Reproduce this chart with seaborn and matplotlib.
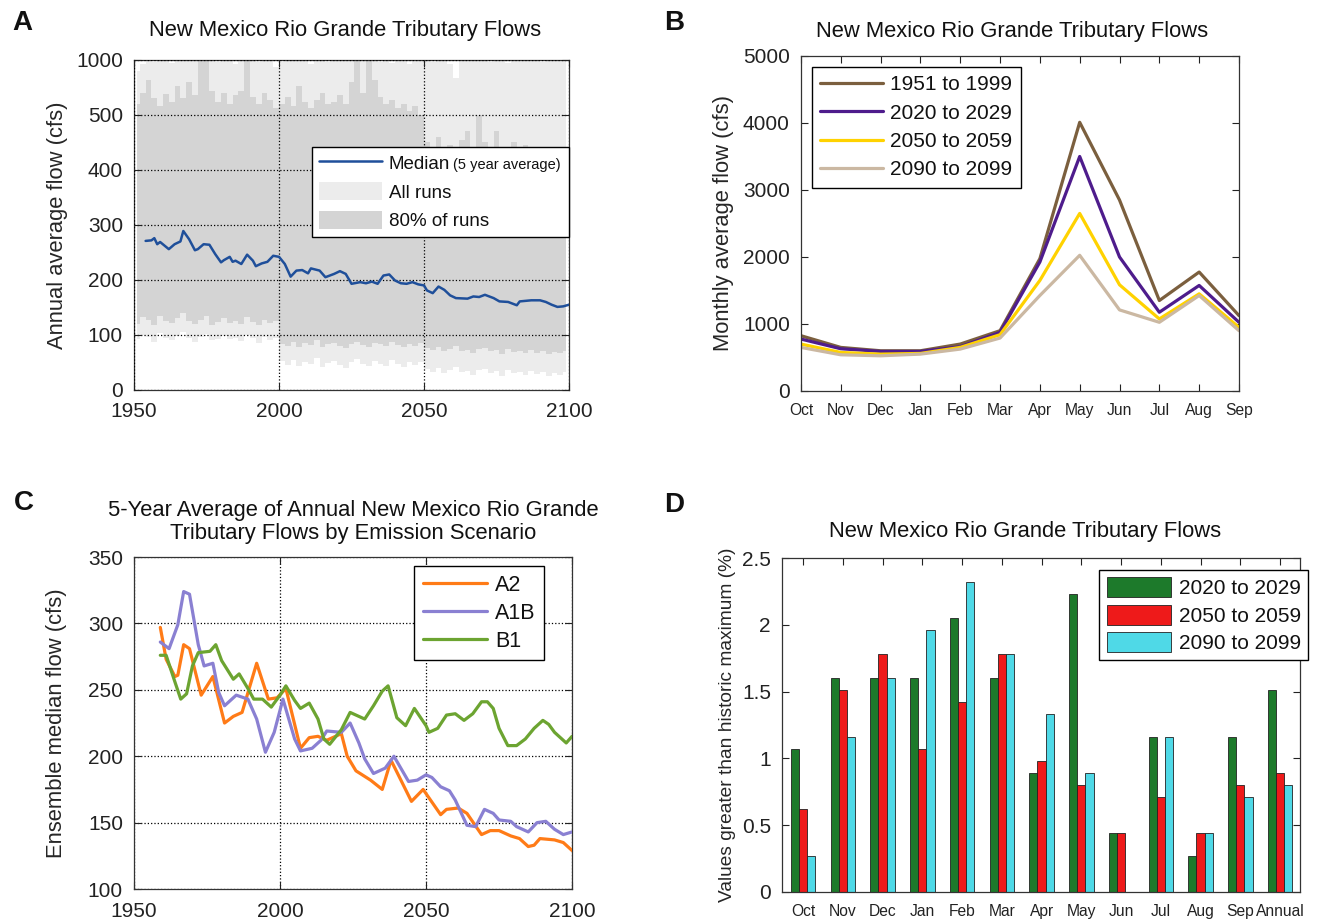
import math
import numpy as np
import pandas as pd
import matplotlib
matplotlib.use('Agg')
import matplotlib.pyplot as plt
import seaborn as sns
from matplotlib.lines import Line2D
from matplotlib.patches import Patch

# %% data

# A: annual flow, median (5-yr average) and run envelopes
median_years = [1954, 1956, 1957, 1958, 1959, 1962, 1964, 1966, 1967, 1969, 1971, 1972, 1974, 1976, 1978,
                1980, 1981, 1983, 1984, 1985, 1987, 1989, 1991, 1992, 1994, 1996, 1998, 2000, 2002, 2004,
                2006, 2008, 2010, 2011, 2014, 2016, 2019, 2021, 2023, 2025, 2028, 2030, 2032, 2034, 2036,
                2038, 2040, 2042, 2044, 2046, 2048, 2050, 2051, 2053, 2055, 2057, 2059, 2061, 2065, 2067,
                2069, 2071, 2074, 2076, 2079, 2082, 2083, 2087, 2090, 2092, 2094, 2096, 2098, 2100]
median_flow = [271, 272, 276, 265, 269, 256, 265, 270, 289, 274, 254, 256, 265, 264, 247,
               232, 236, 242, 233, 235, 229, 246, 235, 225, 230, 233, 244, 242, 229, 206,
               217, 218, 212, 221, 217, 205, 211, 216, 211, 193, 196, 194, 197, 193, 208,
               210, 199, 194, 193, 196, 192, 190, 181, 176, 188, 182, 172, 167, 166, 170,
               169, 173, 167, 161, 160, 154, 161, 163, 163, 160, 155, 151, 152, 155]

band_years = list(range(1951, 2100, 2))
p80_hi = [600, 700, 820, 650, 580, 690, 620, 760, 650, 800, 680, 1000, 1000, 720, 620, 700, 600, 680, 720, 1000, 660, 600, 700, 640, 560,
          600, 660, 580, 760, 620, 560, 640, 700, 600, 620, 680, 600, 800, 1000, 700, 1000, 820, 660, 600, 640, 560, 600, 540, 580, 500,
          450, 440, 460, 430, 445, 420, 455, 470, 440, 500, 450, 430, 470, 440, 420, 450, 430, 445, 420, 440, 410, 430, 400, 390, 380]
p80_lo = [120, 132, 128, 118, 135, 125, 122, 130, 140, 126, 120, 128, 134, 118, 124, 130, 122, 126, 120, 132, 124, 118, 128, 122, 126,
          84, 80, 88, 78, 85, 82, 90, 79, 83, 86, 80, 76, 84, 88, 81, 78, 85, 83, 80, 87, 82, 79, 84, 80, 86,
          76, 72, 78, 70, 74, 80, 71, 73, 68, 75, 77, 70, 72, 66, 74, 69, 71, 67, 73, 68, 70, 65, 69, 67, 70]
all_hi = [900, 960, 1000, 980, 1000, 1000, 970, 1000, 1000, 1000, 990, 1000, 1000, 1000, 980, 1000, 1000, 960, 1000, 1000, 1000, 980, 1000, 990, 940,
          980, 1000, 1000, 990, 1000, 960, 1000, 1000, 980, 1000, 1000, 990, 1000, 1000, 1000, 1000, 1000, 980, 1000, 970, 1000, 1000, 960, 1000, 990,
          1000, 980, 1000, 1000, 960, 840, 1000, 1000, 990, 1000, 1000, 980, 1000, 1000, 970, 1000, 1000, 990, 1000, 1000, 980, 1000, 990, 1000, 1000]
all_lo = [92, 100, 96, 88, 104, 95, 90, 98, 106, 94, 88, 97, 102, 90, 93, 99, 92, 95, 89, 100, 94, 86, 96, 91, 95,
          52, 46, 55, 44, 50, 48, 58, 42, 49, 53, 45, 40, 50, 56, 47, 43, 52, 48, 44, 54, 47, 42, 50, 45, 51,
          38, 33, 40, 30, 36, 42, 32, 35, 28, 37, 39, 31, 34, 26, 36, 30, 33, 27, 35, 29, 32, 25, 30, 28, 33]

# B: monthly average flow by period
months_b = ['Oct', 'Nov', 'Dec', 'Jan', 'Feb', 'Mar', 'Apr', 'May', 'Jun', 'Jul', 'Aug', 'Sep']
periods_b = ['1951 to 1999', '2020 to 2029', '2050 to 2059', '2090 to 2099']
flow_1951 = [825, 650, 600, 600, 700, 900, 1975, 4010, 2850, 1350, 1775, 1125]
flow_2020 = [775, 630, 590, 590, 660, 875, 1925, 3500, 2000, 1175, 1575, 1025]
flow_2050 = [700, 575, 550, 560, 650, 840, 1650, 2650, 1585, 1075, 1450, 950]
flow_2090 = [650, 540, 525, 550, 625, 790, 1425, 2025, 1210, 1025, 1425, 900]

# C: 5-year average by emission scenario
a2_years = [1959, 1961, 1964, 1965, 1967, 1969, 1973, 1977, 1981, 1984, 1987, 1992, 1996, 1999, 2002,
            2004, 2007, 2010, 2013, 2016, 2021, 2023, 2026, 2031, 2035, 2038, 2045, 2049, 2055, 2057,
            2061, 2064, 2069, 2072, 2075, 2079, 2082, 2085, 2087, 2089, 2094, 2097, 2100]
a2_flow = [297, 273, 260, 261, 284, 281, 246, 260, 225, 230, 233, 270, 243, 244, 251,
           233, 206, 214, 215, 212, 217, 200, 189, 182, 175, 197, 166, 175, 156, 160,
           161, 157, 141, 144, 144, 140, 138, 132, 133, 138, 137, 135, 129]
a1b_years = [1959, 1962, 1965, 1967, 1969, 1972, 1974, 1977, 1979, 1981, 1985, 1989, 1992, 1995, 1998, 2001,
             2005, 2007, 2011, 2014, 2016, 2021, 2024, 2027, 2029, 2032, 2036, 2039, 2044, 2047, 2050, 2052,
             2055, 2058, 2060, 2064, 2067, 2070, 2073, 2075, 2079, 2081, 2085, 2088, 2091, 2094, 2097, 2100]
a1b_flow = [286, 281, 299, 324, 322, 284, 268, 270, 248, 238, 246, 243, 228, 203, 218, 243,
            213, 204, 206, 212, 219, 218, 225, 210, 198, 187, 191, 200, 181, 182, 186, 184,
            177, 174, 167, 148, 147, 160, 157, 152, 151, 147, 143, 150, 151, 145, 141, 143]
b1_years = [1959, 1961, 1964, 1966, 1968, 1970, 1972, 1976, 1978, 1980, 1984, 1986, 1989, 1991, 1994, 1997, 2000, 2002,
            2005, 2007, 2010, 2013, 2015, 2017, 2021, 2024, 2026, 2029, 2032, 2035, 2037, 2040, 2043, 2046, 2050, 2051,
            2054, 2057, 2060, 2063, 2066, 2069, 2071, 2073, 2075, 2078, 2081, 2084, 2087, 2090, 2092, 2094, 2098, 2100]
b1_flow = [276, 276, 256, 243, 247, 268, 278, 279, 284, 272, 258, 262, 251, 243, 243, 237, 246, 253,
           242, 236, 240, 228, 213, 209, 220, 233, 231, 228, 238, 249, 253, 229, 223, 236, 223, 218,
           221, 231, 232, 227, 232, 241, 241, 236, 221, 208, 208, 213, 221, 227, 224, 218, 210, 215]

# D: % of values greater than historic maximum
months_d = ['Oct', 'Nov', 'Dec', 'Jan', 'Feb', 'Mar', 'Apr', 'May', 'Jun', 'Jul', 'Aug', 'Sep', 'Annual']
periods_d = ['2020 to 2029', '2050 to 2059', '2090 to 2099']
pct_2020 = [1.07, 1.60, 1.60, 1.60, 2.05, 1.60, 0.89, 2.23, 0.44, 1.16, 0.27, 1.16, 1.51]
pct_2050 = [0.62, 1.51, 1.78, 1.07, 1.42, 1.78, 0.98, 0.80, 0.44, 0.71, 0.44, 0.80, 0.89]
pct_2090 = [0.27, 1.16, 1.60, 1.96, 2.32, 1.78, 1.33, 0.89, 0.00, 1.16, 0.44, 0.71, 0.80]

# %% styling

sns.set_style('ticks')
plt.rcParams['font.family'] = ['Liberation Sans', 'DejaVu Sans']
plt.rcParams.update({
    'xtick.direction': 'in', 'ytick.direction': 'in',
    'xtick.top': True, 'ytick.right': True,
    'xtick.major.size': 5, 'ytick.major.size': 5,
    'xtick.major.width': 0.8, 'ytick.major.width': 0.8,
    'xtick.major.pad': 9, 'ytick.major.pad': 8,
    'xtick.labelsize': 15, 'ytick.labelsize': 15,
    'xtick.color': '#222222', 'ytick.color': '#222222',
    'axes.edgecolor': '#333333', 'axes.linewidth': 0.9,
    'text.color': '#111111',
})

blue = '#1f4f9a'
c_all = '#ececec'
c_80 = '#d4d4d4'
pal_b = ['#7b5f3e', '#4e1c8c', '#ffd200', '#cbb8a2']
pal_c = {'A2': '#ff7b17', 'A1B': '#8a80d2', 'B1': '#6ca431'}
pal_d = ['#1d7a2b', '#ee1a1a', '#4fd9e7']

leg_kw = dict(frameon=True, fancybox=False, edgecolor='black', framealpha=1,
              borderaxespad=0, handletextpad=0.35)

fig = plt.figure(figsize=(13.23, 9.21), dpi=100)
axA = fig.add_axes([0.1013, 0.5766, 0.3288, 0.3583])
axB = fig.add_axes([0.6054, 0.5755, 0.3311, 0.3637])
axC = fig.add_axes([0.1013, 0.0347, 0.3311, 0.3605])
axD = fig.add_axes([0.5911, 0.0315, 0.3915, 0.3626])

r = fig.canvas.get_renderer()

def text_w(s, size):
    t = fig.text(0, 0, s, fontsize=size)
    w = t.get_window_extent(r).width
    t.remove()
    return w

# month labels sized so "Annual" fits its slot next to "Sep"
fs_month = min(14, 14 * 49 / text_w('Annual', 14))

# %% A

def fwd(y):
    y = np.asarray(y, dtype=float)
    return np.where(y <= 500, y, 500 + (y - 500) / 5)

def inv(z):
    z = np.asarray(z, dtype=float)
    return np.where(z <= 500, z, 500 + (z - 500) * 5)

axA.fill_between(band_years, all_lo, all_hi, step='mid', color=c_all, lw=0, zorder=1)
axA.fill_between(band_years, p80_lo, p80_hi, step='mid', color=c_80, lw=0, zorder=1.1)
sns.lineplot(x=median_years, y=median_flow, color=blue, lw=1.8, ax=axA, zorder=3)
axA.set_yscale('function', functions=(fwd, inv))
axA.set_ylim(0, 1000)
axA.set_xlim(1950, 2100)
axA.set_yticks([0, 100, 200, 300, 400, 500, 1000], labels=['0', '100', '200', '300', '400', '500', '1000'])
axA.set_xticks([1950, 2000, 2050, 2100])
axA.set_axisbelow(False)
axA.grid(True, ls=':', color='black', lw=0.9)
axA.set_title('New Mexico Rio Grande Tributary Flows', fontsize=15.8, pad=17, x=0.485)
axA.set_ylabel('Annual average flow (cfs)', fontsize=15.8)
axA.yaxis.set_label_coords(-0.152, 0.5)

# widen the last label so the box leaves room for the small "(5 year average)" note
fs_a, fs_note = 13.5, 10.5
w_need = text_w('Median', fs_a) + 2 * fig.dpi / 72 + text_w('(5 year average)', fs_note)
w_sp = (text_w('a' + '\u00a0' * 10 + 'a', fs_a) - text_w('aa', fs_a)) / 10
n_sp = max(0, math.ceil((w_need - text_w('80% of runs', fs_a)) / w_sp))

hA = [Line2D([], [], color=blue, lw=1.8), Patch(fc=c_all, ec='none'), Patch(fc=c_80, ec='none')]
legA = axA.legend(hA, ['Median', 'All runs', '80% of runs' + '\u00a0' * n_sp], loc='upper left',
                  bbox_to_anchor=((312 - 134) / 435, (390 - 147) / 330), fontsize=fs_a,
                  handlelength=3.4, handleheight=1.1, labelspacing=0.5, borderpad=0.35, **leg_kw)
legA.get_frame().set_linewidth(1.0)
axA.annotate('(5 year average)', xy=(1, 0), xycoords=legA.get_texts()[0], xytext=(2, 0.5),
             textcoords='offset points', fontsize=fs_note, va='bottom', ha='left', zorder=10)

# %% B

df_b = pd.DataFrame({
    'month': list(range(12)) * 4,
    'flow': flow_1951 + flow_2020 + flow_2050 + flow_2090,
    'period': [p for p in periods_b for _ in range(12)],
})
sns.lineplot(data=df_b, x='month', y='flow', hue='period', hue_order=periods_b, palette=pal_b,
             lw=2.3, ax=axB, legend=False)
axB.set_xlim(0, 11)
axB.set_ylim(0, 5000)
axB.set_xticks(range(12), labels=months_b, fontsize=fs_month)
axB.set_yticks(range(0, 5001, 1000))
axB.set_xlabel('')
axB.set_ylabel('Monthly average flow (cfs)', fontsize=15.8)
axB.yaxis.set_label_coords(-0.153, 0.5)
axB.set_title('New Mexico Rio Grande Tributary Flows', fontsize=15.8, pad=14, x=0.482)
hB = [Line2D([], [], color=c, lw=2.3) for c in pal_b]
legB = axB.legend(hB, periods_b, loc='upper left', bbox_to_anchor=((812 - 801) / 438, (391 - 67) / 335),
                  fontsize=15, handlelength=3.0, labelspacing=0.45, borderpad=0.4, **leg_kw)
legB.get_frame().set_linewidth(1.0)

# %% C

df_c = pd.DataFrame({
    'year': a2_years + a1b_years + b1_years,
    'flow': a2_flow + a1b_flow + b1_flow,
    'scenario': ['A2'] * len(a2_years) + ['A1B'] * len(a1b_years) + ['B1'] * len(b1_years),
})
sns.lineplot(data=df_c, x='year', y='flow', hue='scenario', hue_order=['A2', 'A1B', 'B1'],
             palette=pal_c, lw=2.3, ax=axC, legend=False, zorder=3)
axC.set_xlim(1950, 2100)
axC.set_ylim(100, 350)
axC.set_xticks([1950, 2000, 2050, 2100])
axC.set_yticks(range(100, 351, 50))
axC.set_xlabel('')
axC.grid(True, ls=':', color='black', lw=0.9)
axC.set_ylabel('Ensemble median flow (cfs)', fontsize=15.8)
axC.yaxis.set_label_coords(-0.152, 0.5)
axC.set_title('5-Year Average of Annual New Mexico Rio Grande\nTributary Flows by Emission Scenario',
              fontsize=15.8, pad=13, linespacing=1.1)
hC = [Line2D([], [], color=pal_c[k], lw=2.3) for k in ['A2', 'A1B', 'B1']]
legC = axC.legend(hC, ['A2', 'A1B', 'B1'], loc='upper left', bbox_to_anchor=((414 - 134) / 438, (889 - 566) / 332),
                  fontsize=15.5, handlelength=3.0, labelspacing=0.33, borderpad=0.4, **leg_kw)
legC.get_frame().set_linewidth(1.0)

# %% D

df_d = pd.DataFrame({
    'month': months_d * 3,
    'pct': pct_2020 + pct_2050 + pct_2090,
    'period': [p for p in periods_d for _ in months_d],
})
sns.barplot(data=df_d, x='month', y='pct', hue='period', order=months_d, hue_order=periods_d,
            palette=pal_d, saturation=1, width=0.62, gap=0, edgecolor='#222222', linewidth=0.6,
            ax=axD, legend=False)
axD.set_xlim(-0.53, 12.5)
axD.set_ylim(0, 2.5)
axD.set_yticks([0, 0.5, 1, 1.5, 2, 2.5], labels=['0', '0.5', '1', '1.5', '2', '2.5'])
axD.set_xticks(range(13), labels=months_d, fontsize=fs_month)
axD.set_xlabel('')
axD.set_ylabel('Values greater than historic maximum (%)', fontsize=13.8)
axD.yaxis.set_label_coords(-0.089, 0.5)
axD.set_title('New Mexico Rio Grande Tributary Flows', fontsize=15.8, pad=15, x=0.469)
hD = [Patch(fc=c, ec='#222222', lw=0.6) for c in pal_d]
legD = axD.legend(hD, periods_d, loc='upper right', bbox_to_anchor=((1308 - 782) / 518, (892 - 570) / 334),
                  fontsize=15, handlelength=3.1, handleheight=1.1, labelspacing=0.3, borderpad=0.35, **leg_kw)
legD.get_frame().set_linewidth(1.0)

# panel letters
for lab, x, y in [('A', 12, 30), ('B', 664, 30), ('C', 14, 510), ('D', 664, 512)]:
    fig.text(x / 1323, 1 - y / 921, lab, fontsize=20, fontweight='bold', va='baseline', ha='left')

fig.savefig('out.png', dpi=100)
